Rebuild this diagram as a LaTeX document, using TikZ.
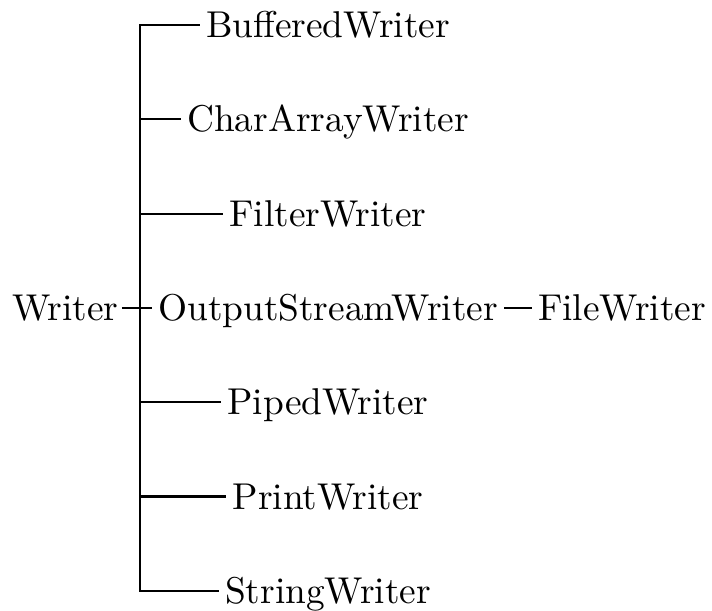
\documentclass[tikz,border=0pt]{standalone}
\begin{document}
\begin{tikzpicture}[x=0.2732pt,y=-0.2732pt,
  cls/.style={inner xsep=1.6pt,inner ysep=0pt,text height=6.9pt,text depth=0pt,font=\fontsize{10.2}{12}\selectfont},
  root/.style={cls,inner xsep=0.8pt},
  link/.style={line width=0.6pt}]
  \useasboundingbox (0,0) rectangle (712,611);
  % root class and the trunk of the hierarchy
  \node[root,anchor=east] (w) at (122,307.9) {Writer};
  \coordinate (trunk) at (140,307.9);
  % direct subclasses, stacked along the trunk
  \node[cls] (c1) at (328,25)    {BufferedWriter};
  \node[cls] (c2) at (328,119.3) {CharArrayWriter};
  \node[cls] (c3) at (328,213.6) {FilterWriter};
  \node[cls] (c4) at (328,307.9) {OutputStreamWriter};
  \node[cls] (c5) at (328,402.2) {PipedWriter};
  \node[cls] (c6) at (328,496.5) {PrintWriter};
  \node[cls] (c7) at (328,590.8) {StringWriter};
  % subclass of OutputStreamWriter
  \node[cls] (f) at (622,307.9) {FileWriter};
  % connectors
  \draw[link] (c1.west) -| (trunk |- c1.west) -- (trunk |- c7.west) -- (c7.west);
  \foreach \k in {2,...,6} {
    \draw[link] (trunk |- c\k.west) -- (c\k.west);
  }
  \draw[link] (w.east) -- (trunk);
  \draw[link] (c4.east) -- (f.west);
\end{tikzpicture}
\end{document}
